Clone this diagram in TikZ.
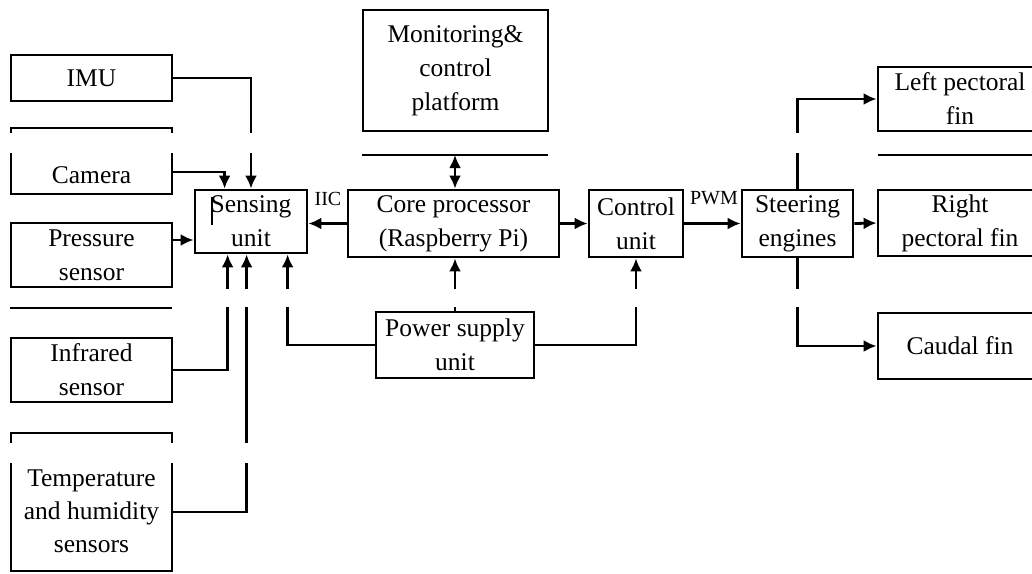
\documentclass[tikz,border=0pt]{standalone}
\usepackage{fontspec}
\setmainfont{Liberation Serif}
\usetikzlibrary{arrows.meta,calc}
\begin{document}
\begin{tikzpicture}[x=1pt,y=-1pt,
  box/.style={draw,line width=2.8pt,rectangle,inner sep=0pt,align=center,font=\fontsize{25.5}{34}\selectfont},
  txt/.style={align=center,inner sep=0pt,font=\fontsize{25.5}{33}\selectfont},
  conn/.style={line width=2.8pt},
  arr/.style={conn,-{Latex[length=13pt,width=12pt]}},
  darr/.style={conn,{Latex[length=13pt,width=12pt]}-{Latex[length=13pt,width=12pt]}},
  lab/.style={inner sep=0pt,font=\fontsize{20}{22}\selectfont},
  stray/.style={line width=2pt}]
\useasboundingbox (0,0) rectangle (1032,573);
\clip (0,0) rectangle (1032,573);

% left column
\node[box,minimum width=161pt,minimum height=46pt] (imu) at (91.5,78) {IMU};
\node[box,minimum width=161pt,minimum height=66pt] (cam) at (91.5,161) {};
\node[txt] (camtxt) at (91.5,175) {Camera};
\node[box,minimum width=161pt,minimum height=64pt] (pres) at (91.5,255) {Pressure\\sensor};
\node[box,minimum width=161pt,minimum height=64pt] (inf) at (91.5,370) {Infrared\\sensor};
\node[box,minimum width=161pt,minimum height=138pt] (temp) at (91.5,502) {};
\node[txt] (temptxt) at (91.5,511) {Temperature\\and humidity\\sensors};

% middle
\node[box,minimum width=112pt,minimum height=63pt] (sens) at (251,221.5) {Sensing\\unit};
\node[box,minimum width=185pt,minimum height=121pt] (mon) at (455.5,70.5) {Monitoring\&\\control\\platform};
\node[box,minimum width=211pt,minimum height=67pt] (core) at (453.5,223.5) {Core processor\\(Raspberry Pi)};
\node[box,minimum width=94pt,minimum height=67pt] (ctrl) at (636,223.5) {Control\\unit};
\node[box,minimum width=158pt,minimum height=66pt] (pow) at (455,345) {Power supply\\unit};

% right
\node[box,minimum width=111pt,minimum height=67pt] (steer) at (797.5,223.5) {Steering\\engines};
\node[box,minimum width=164pt,minimum height=64pt] (lp) at (960,99) {Left pectoral\\fin};
\node[box,minimum width=164pt,minimum height=66pt] (rp) at (960,223) {Right\\pectoral fin};
\node[box,minimum width=164pt,minimum height=66pt] (caud) at (960,346) {Caudal fin};

\node[lab] (iic) at (328,199) {IIC};
\node[lab] (pwm) at (714,198) {PWM};
\coordinate (monlink) at (455,155);

% connectors
\draw[arr] (imu.east) -| (sens.north);
\draw[arr] ($(cam.east)+(0,11)$) -| ($(sens.north west)+(31,0)$);
\draw[arr] ($(pres.east)+(0,-15)$) -- ($(sens.west)+(0,18.5)$);
\draw[arr] (core.west) -- (sens.east |- core.west);
\draw[arr] (inf.east) -| ($(sens.south west)+(34,0)$);
\draw[arr] ($(temp.east)+(0,10)$) -| ($(sens.south west)+(53,0)$);
\draw[arr] (pow.west) -| ($(sens.south west)+(94,0)$);
\draw[arr] (pow.north) -- (core.south -| pow.north);
\draw[arr] (pow.east) -| (ctrl.south);
\draw[arr] (core.east) -- (ctrl.west);
\draw[darr] (monlink) -- (core.north -| monlink);
\draw[arr] (ctrl.east) -- (steer.west);
\draw[arr] (steer.east) -- (rp.west);
\draw[arr] (steer.north) |- (lp.west);
\draw[arr] (steer.south) |- (caud.west);

% blank bands and stray marks as in the reference
\fill[white] (-1,133) rectangle (1033,153);
\fill[white] (-1,288.5) rectangle (1033,307);
\fill[white] (-1,443) rectangle (300,463);
\draw[stray] (362,154.5) -- (548,154.5);
\draw[stray] (878,155) -- (1033,155);
\draw[stray] (10,308) -- (172,308);
\draw[stray] (212,197) -- (212,225);
\end{tikzpicture}
\end{document}
